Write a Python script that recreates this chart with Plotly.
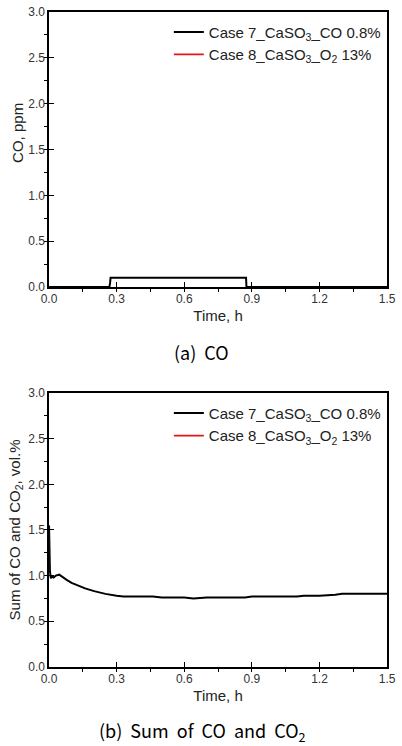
import plotly.graph_objects as go
from plotly.subplots import make_subplots

# --- data ---
# (a) CO, ppm
co_time_7 = [0.0, 0.268, 0.271, 0.273, 0.874, 0.876, 1.5]
co_ppm_7 = [0.0, 0.0, 0.05, 0.1, 0.1, 0.0, 0.0]
co_time_8 = [None]
co_ppm_8 = [None]

# (b) sum of CO and CO2, vol.%
sum_time_7 = [0.0, 0.002, 0.004, 0.008, 0.012, 0.02, 0.03, 0.045, 0.06, 0.08,
              0.1, 0.13, 0.16, 0.2, 0.25, 0.3, 0.33, 0.4, 0.46, 0.5, 0.6,
              0.64, 0.7, 0.8, 0.87, 0.9, 1.0, 1.1, 1.13, 1.2, 1.27, 1.3, 1.4, 1.5]
sum_vol_7 = [1.55, 1.25, 1.05, 0.97, 0.99, 0.98, 1.0, 1.01, 0.98, 0.95,
             0.92, 0.89, 0.86, 0.83, 0.8, 0.78, 0.77, 0.77, 0.77, 0.76, 0.76,
             0.75, 0.76, 0.76, 0.76, 0.77, 0.77, 0.77, 0.78, 0.78, 0.79, 0.8, 0.8, 0.8]
sum_time_8 = [None]
sum_vol_8 = [None]

names = ["Case 7_CaSO<sub>3</sub>_CO 0.8%", "Case 8_CaSO<sub>3</sub>_O<sub>2</sub> 13%"]
x_ticks = [0.0, 0.3, 0.6, 0.9, 1.2, 1.5]
y_ticks = [0.0, 0.5, 1.0, 1.5, 2.0, 2.5, 3.0]

fig = make_subplots(rows=2, cols=1)

fig.add_trace(go.Scatter(x=co_time_7, y=co_ppm_7, mode="lines", name=names[0],
                         line=dict(color="black", width=2), legend="legend"), row=1, col=1)
fig.add_trace(go.Scatter(x=co_time_8, y=co_ppm_8, mode="lines", name=names[1],
                         line=dict(color="#e8141c", width=1.6), legend="legend"), row=1, col=1)
fig.add_trace(go.Scatter(x=sum_time_7, y=sum_vol_7, mode="lines", name=names[0],
                         line=dict(color="black", width=2), legend="legend2"), row=2, col=1)
fig.add_trace(go.Scatter(x=sum_time_8, y=sum_vol_8, mode="lines", name=names[1],
                         line=dict(color="#e8141c", width=1.6), legend="legend2"), row=2, col=1)

base = "Liberation Sans, Arial, sans-serif"
axis_font = dict(family=base, size=12, color="#333333")
title_font = dict(family=base, size=15, color="#222222")

fig.update_xaxes(range=[0, 1.5], tickvals=x_ticks, tickformat=".1f", automargin=False,
                 showgrid=False, zeroline=False, showline=True, linecolor="black",
                 linewidth=1.5, mirror=True, ticks="inside", ticklen=5, tickwidth=1.2,
                 tickcolor="black", tickfont=axis_font,
                 minor=dict(dtick=0.15, ticks="outside", ticklen=3, tickcolor="black"),
                 title=dict(text="Time, h", font=title_font, standoff=5))
fig.update_yaxes(range=[0, 3], tickvals=y_ticks, tickformat=".1f", automargin=False,
                 showgrid=False, zeroline=False, showline=True, linecolor="black",
                 linewidth=1.5, mirror=True, ticks="inside", ticklen=5, tickwidth=1.2,
                 tickcolor="black", tickfont=axis_font,
                 minor=dict(dtick=0.25, ticks="outside", ticklen=3, tickcolor="black"))
fig.update_yaxes(title=dict(text="Sum of CO and CO<sub>2</sub>, vol.%", font=title_font,
                            standoff=4), row=2, col=1)

legend_font = dict(family=base, size=15, color="#222222")
fig.update_layout(
    width=402, height=746,
    margin=dict(l=0, r=0, t=0, b=0),
    paper_bgcolor="white", plot_bgcolor="white",
    xaxis=dict(domain=[0.122, 0.963]),
    xaxis2=dict(domain=[0.122, 0.963]),
    yaxis=dict(domain=[0.6153, 0.984]),
    yaxis2=dict(domain=[0.106, 0.4732]),
    legend=dict(x=0.42, y=0.979, xanchor="left", yanchor="top", bgcolor="rgba(0,0,0,0)",
                font=legend_font, itemwidth=30),
    legend2=dict(x=0.42, y=0.468, xanchor="left", yanchor="top", bgcolor="rgba(0,0,0,0)",
                 font=legend_font, itemwidth=30),
    font=dict(family=base),
)

# y title of panel (a) sits above the panel centre in the original
fig.add_annotation(text="CO, ppm", x=0.045, y=0.822, xref="paper", yref="paper",
                   textangle=-90, showarrow=False, font=title_font,
                   xanchor="center", yanchor="middle")

cap_font = dict(family="Noto Sans CJK KR, Noto Sans, sans-serif", size=18, color="black")
fig.add_annotation(text="(a)  CO", x=0.502, y=0.528, xref="paper", yref="paper",
                   showarrow=False, font=cap_font, xanchor="center", yanchor="middle")
fig.add_annotation(text="(b)  Sum  of  CO  and  CO<sub>2</sub>", x=0.503, y=0.019,
                   xref="paper", yref="paper", showarrow=False, font=cap_font,
                   xanchor="center", yanchor="middle")

# drop the default body margin so the 402x746 figure fills the window
fig.write_html("out.html", config={"displayModeBar": False},
               post_script="document.body.style.margin='0';")
